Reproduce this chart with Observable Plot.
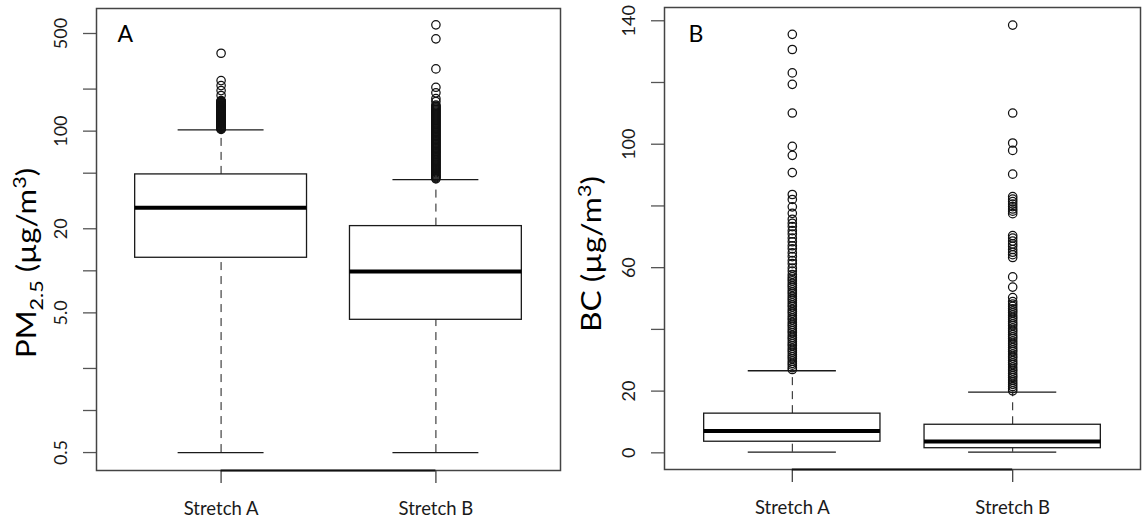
<!DOCTYPE html>
<html><head><meta charset="utf-8">
<script src="https://cdn.jsdelivr.net/npm/d3@7"></script>
<script src="https://cdn.jsdelivr.net/npm/@observablehq/plot@0.6"></script>
<style>
body{margin:0;background:#fff;}
#wrap{position:relative;width:1143px;height:521px;overflow:hidden;background:#fff;}
#left,#right{position:absolute;top:0;}
#left{left:0}
#right{left:571px}
</style></head><body><div id="wrap"><div id="left"></div><div id="right"></div></div>
<script>
// ---------- data ----------
const categories = ["Stretch A", "Stretch B"];

// Panel A: PM2.5 (log scale)
const pmLower  = [0.5, 0.5];
const pmQ1     = [12.4, 4.46];
const pmMedian = [28.3, 9.9];
const pmQ3     = [49, 20.9];
const pmUpper  = [102, 45];
const pmOutliersA = [102.8, 103.7, 104.6, 105.4, 106.2, 107.2, 108.1, 108.9, 109.7, 110.8, 111.8, 112.6, 113.5, 114.6,
  115.6, 116.5, 117.4, 118.5, 119.6, 120.5, 121.5, 122.7, 123.9, 124.8, 125.7, 126.9, 128.1, 129.1, 130.1, 131.4, 132.6,
  133.6, 134.6, 135.9, 137.2, 138.2, 139.3, 140.7, 142.0, 143.1, 144.2, 145.6, 146.9, 148.0, 149.2, 150.6, 152.0, 153.2,
  154.4, 155.9, 157.3, 158.5, 159.8, 161.3, 162.7, 164.0, 165.3, 180, 195, 212, 230, 361];
const pmOutliersB = [45.6, 46.3, 47.1, 47.8, 48.6, 49.4, 50.3, 51.1, 51.9, 52.8, 53.7, 54.5, 55.4, 56.3, 57.2, 58.2,
  59.2, 60.1, 61.1, 62.2, 63.2, 64.3, 65.4, 66.4, 67.5, 68.7, 69.9, 71.0, 72.1, 73.3, 74.6, 75.8, 77.0, 78.3, 79.7,
  81.0, 82.3, 83.7, 85.1, 86.5, 87.9, 89.4, 90.9, 92.3, 93.8, 95.4, 97.1, 98.6, 100.2, 101.9, 103.7, 105.3, 107.0,
  108.9, 110.7, 112.5, 114.3, 116.2, 118.2, 120.1, 122.1, 124.2, 126.3, 128.3, 130.4, 132.6, 134.9, 137.1, 139.3,
  141.7, 144.1, 146.4, 148.8, 151.2, 153.6, 163, 171, 188, 206, 279, 458, 577];
const pmTicks = [0.5, 1, 2, 5, 10, 20, 50, 100, 200, 500];
const pmTickLabels = ["0.5", "", "", "5.0", "", "20", "", "100", "", "500"];

// Panel B: BC (linear scale)
const bcLower  = [0.2, 0.2];
const bcQ1     = [3.6, 1.5];
const bcMedian = [7.1, 3.7];
const bcQ3     = [12.7, 9.1];
const bcUpper  = [26.6, 19.7];
const bcOutliersA = [27.0, 27.6, 28.4, 29.0, 29.7, 30.5, 31.1, 31.8, 32.6, 33.2, 33.9, 34.7, 35.3, 36.0, 36.8, 37.4,
  38.1, 38.9, 39.5, 40.2, 41.0, 41.6, 42.3, 43.1, 43.7, 44.4, 45.2, 45.8, 46.5, 47.3, 47.9, 48.6, 49.4, 50.0, 50.7,
  51.5, 52.1, 52.8, 53.6, 54.2, 54.9, 55.7, 56.3, 57.0, 57.8, 58.9, 59.9, 61.3, 62.3, 63.6, 64.8, 66.1, 67.1, 68.4,
  69.6, 70.9, 72.0, 73.3, 74.4, 75.7, 77.6, 79.7, 82.1, 83.7, 90.8, 96.4, 99.3, 110.1, 119.4, 123.1, 130.7, 135.6];
const bcOutliersB = [20.1, 20.8, 21.5, 22.2, 22.9, 23.6, 24.4, 25.0, 25.7, 26.5, 27.1, 27.8, 28.6, 29.2, 29.9, 30.7,
  31.3, 32.0, 32.8, 33.4, 34.1, 34.9, 35.5, 36.2, 37.0, 37.6, 38.3, 39.1, 39.7, 40.4, 41.2, 41.8, 42.5, 43.3, 43.9,
  44.6, 45.4, 46.0, 46.7, 47.5, 48.2, 49.0, 50.3, 53.7, 57.0, 63.3, 64.2, 65.0, 65.9, 66.9, 67.7, 68.6, 69.6, 70.4,
  77.5, 78.3, 79.0, 79.8, 80.6, 81.4, 82.2, 83.0, 90.3, 98.0, 100.4, 110.1, 138.6];
const bcTicks = [0, 20, 40, 60, 80, 100, 120, 140];
const bcTickLabels = ["0", "20", "", "60", "", "100", "", "140"];

// ---------- build ----------
function boxRows(lower, q1, median, q3, upper) {
  return categories.map((c, i) => ({cat: c, pos: i + 1, lower: lower[i], q1: q1[i], median: median[i], q3: q3[i], upper: upper[i]}));
}
function outlierRows(listA, listB) {
  return [...listA.map(v => ({pos: 1, value: v})), ...listB.map(v => ({pos: 2, value: v}))];
}
function labelFor(ticks, labels) {
  return d => {
    const v = +d;
    const i = ticks.findIndex(t => Math.abs(t - v) <= 1e-6 * Math.max(1, Math.abs(t)));
    return i < 0 ? "" : labels[i];
  };
}

const FONT = "Lato, 'Open Sans', sans-serif";
const INK = "#1a1a1a";

function panel(o) {
  const yMin = o.domain[0];
  const chart = Plot.plot({
    width: o.width, height: 521,
    marginLeft: o.marginLeft, marginRight: o.marginRight, marginTop: o.marginTop, marginBottom: o.marginBottom,
    style: {fontFamily: FONT, fontSize: "18px", color: INK, background: "#fff"},
    x: {domain: [0.42, 2.58], axis: null},
    y: {type: o.type, domain: o.domain, axis: null},
    marks: [
      Plot.axisY({ticks: o.ticks, tickSize: 13, tickPadding: 17, tickRotate: -90, fontSize: 18, label: null,
        text: labelFor(o.ticks, o.tickLabels), stroke: "#555", strokeWidth: 1.3}),
      Plot.axisX({ticks: [1, 2], tickSize: 13, tickPadding: 18, fontSize: 18.5, label: null,
        tickFormat: d => categories[Math.round(d) - 1], stroke: "#444", strokeWidth: 1.3}),
      Plot.ruleX(o.rows, {x: "pos", y1: "q3", y2: "upper", stroke: INK, strokeDasharray: "8,6"}),
      Plot.ruleX(o.rows, {x: "pos", y1: "lower", y2: "q1", stroke: INK, strokeDasharray: "8,6"}),
      Plot.ruleY(o.rows, {y: "upper", x1: d => d.pos - 0.2, x2: d => d.pos + 0.2, stroke: INK, strokeWidth: 1.3}),
      Plot.ruleY(o.rows, {y: "lower", x1: d => d.pos - 0.2, x2: d => d.pos + 0.2, stroke: INK, strokeWidth: 1.3}),
      Plot.rect(o.rows, {x1: d => d.pos - 0.4, x2: d => d.pos + 0.4, y1: "q1", y2: "q3", fill: "white", stroke: INK, strokeWidth: 1.3}),
      Plot.ruleY(o.rows, {y: "median", x1: d => d.pos - 0.4, x2: d => d.pos + 0.4, stroke: "#000", strokeWidth: 4}),
      Plot.dot(o.outliers, {x: "pos", y: "value", r: 4.2, stroke: "#111", fill: "none", strokeWidth: 1.25}),
      Plot.frame({stroke: "#444", strokeWidth: 1.5}),
      Plot.ruleY([yMin], {x1: 1, x2: 2, stroke: "#111", strokeWidth: 2}),
      Plot.text([o.letter], {frameAnchor: "top-left", dx: o.letterDx, dy: o.letterDy, fontSize: 23, fill: "#000"})
    ]
  });
  const svg = d3.select(chart);
  const t = svg.append("text")
    .attr("transform", `translate(${o.titleX},${o.titleY}) rotate(-90)`)
    .attr("text-anchor", "middle")
    .attr("font-family", FONT)
    .attr("font-size", o.titleSize)
    .attr("textLength", o.titleLength)
    .attr("lengthAdjust", "spacingAndGlyphs")
    .attr("fill", "#000");
  o.title(t);
  return chart;
}

const left = panel({
  width: 571, marginLeft: 96, marginRight: 11, marginTop: 8, marginBottom: 51,
  type: "log", domain: [0.372, 755], ticks: pmTicks, tickLabels: pmTickLabels,
  rows: boxRows(pmLower, pmQ1, pmMedian, pmQ3, pmUpper),
  outliers: outlierRows(pmOutliersA, pmOutliersB),
  letter: "A", letterDx: 21, letterDy: 17,
  titleX: 36, titleY: 263, titleSize: 26, titleLength: 190,
  title: t => {
    t.append("tspan").text("PM");
    t.append("tspan").attr("font-size", 18).attr("dy", 7).text("2.5");
    t.append("tspan").attr("dy", -7).text(" (µg/m");
    t.append("tspan").attr("font-size", 18).attr("dy", -10).text("3");
    t.append("tspan").attr("dy", 10).text(")");
  }
});
const right = panel({
  width: 572, marginLeft: 93, marginRight: 3, marginTop: 7, marginBottom: 52,
  type: "linear", domain: [-5.4, 144.3], ticks: bcTicks, tickLabels: bcTickLabels,
  rows: boxRows(bcLower, bcQ1, bcMedian, bcQ3, bcUpper),
  outliers: outlierRows(bcOutliersA, bcOutliersB),
  letter: "B", letterDx: 24, letterDy: 18,
  titleX: 30, titleY: 254, titleSize: 26, titleLength: 156,
  title: t => {
    t.append("tspan").text("BC (µg/m");
    t.append("tspan").attr("font-size", 18).attr("dy", -10).text("3");
    t.append("tspan").attr("dy", 10).text(")");
  }
});
document.getElementById("left").appendChild(left);
document.getElementById("right").appendChild(right);
</script>
</body></html>
